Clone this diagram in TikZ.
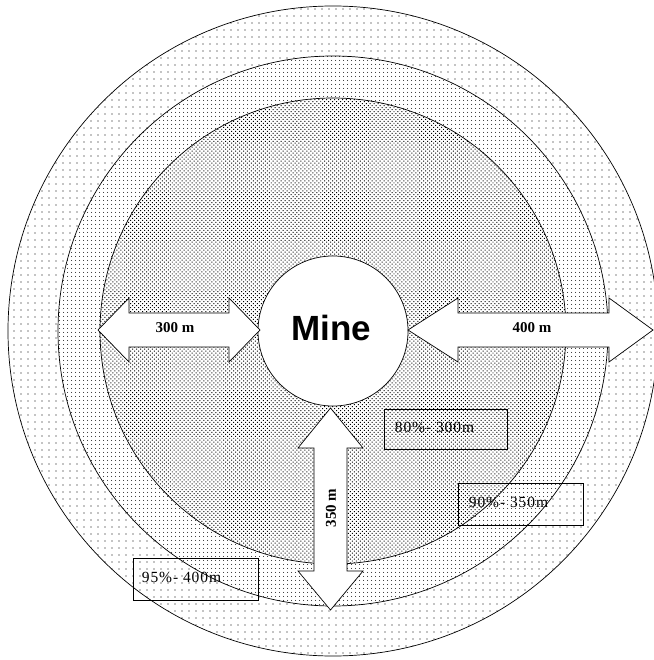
\documentclass[tikz,border=0pt]{standalone}
\usepackage{fontspec}
\setmainfont{Liberation Serif}
\newfontfamily\minefont{Liberation Sans}
\newfontfamily\boxfont[LetterSpace=6]{Liberation Serif}
\usetikzlibrary{patterns.meta}
\begin{document}
\begin{tikzpicture}[x=1pt,y=-1pt,
  ring/.style={draw=black,line width=0.7pt},
  blockarrow/.style={draw=black,fill=white,line width=0.7pt,line join=miter},
  distlabel/.style={font=\fontsize{15}{15}\selectfont\bfseries,inner sep=0pt},
  boxframe/.style={draw=black,line width=0.7pt,inner sep=0pt},
  boxtext/.style={font=\fontsize{15.5}{15.5}\boxfont,anchor=west,inner sep=0pt}]
\useasboundingbox (0,0) rectangle (653,660);
\coordinate (c) at (333,331);
% rings
\path[ring,preaction={fill=white},pattern={Dots[distance=7pt,radius=0.6pt]}] (c) circle[radius=325pt];
\path[ring,preaction={fill=white},pattern={Dots[distance=4pt,radius=0.6pt]}] (c) circle[radius=275pt];
\path[ring,preaction={fill=white},pattern={Dots[distance=2.8pt,radius=0.7pt,angle=45]}] (c) circle[radius=233pt];
% mine
\node[ring,fill=white,circle,minimum size=150pt,inner sep=0pt] (mine) at (333,331) {};
\node[font=\fontsize{35}{35}\minefont\bfseries,inner sep=0pt] (minetext) at (331,328) {Mine};
% arrows
\draw[blockarrow] (98,330) -- (129,298) -- (129,313) -- (229,313) -- (229,298) -- (260,330)
  -- (229,362) -- (229,347) -- (129,347) -- (129,362) -- cycle;
\draw[blockarrow] (408,330) -- (458,298) -- (458,313) -- (609,313) -- (609,298) -- (653,330)
  -- (609,362) -- (609,347) -- (458,347) -- (458,362) -- cycle;
\draw[blockarrow] (330.5,408) -- (363,448) -- (347,448) -- (347,571) -- (363,571) -- (330.5,610)
  -- (298,571) -- (314,571) -- (314,448) -- (298,448) -- cycle;
\node[distlabel] (l300) at (175,328) {300 m};
\node[distlabel] (l400) at (532,328) {400 m};
\node[distlabel,rotate=90] (l350) at (331,508) {350 m};
% boxes
\node[boxframe,minimum width=123pt,minimum height=40pt] (b80) at (445.5,429) {};
\node[boxtext] (t80) at ([xshift=11pt,yshift=2pt]b80.west) {80\%- 300m};
\node[boxframe,minimum width=125pt,minimum height=42pt] (b90) at (520.5,504) {};
\node[boxtext] (t90) at ([xshift=11pt,yshift=2pt]b90.west) {90\%- 350m};
\node[boxframe,minimum width=125pt,minimum height=42pt] (b95) at (195.5,579) {};
\node[boxtext] (t95) at ([xshift=9pt,yshift=2pt]b95.west) {95\%- 400m};
\end{tikzpicture}
\end{document}
